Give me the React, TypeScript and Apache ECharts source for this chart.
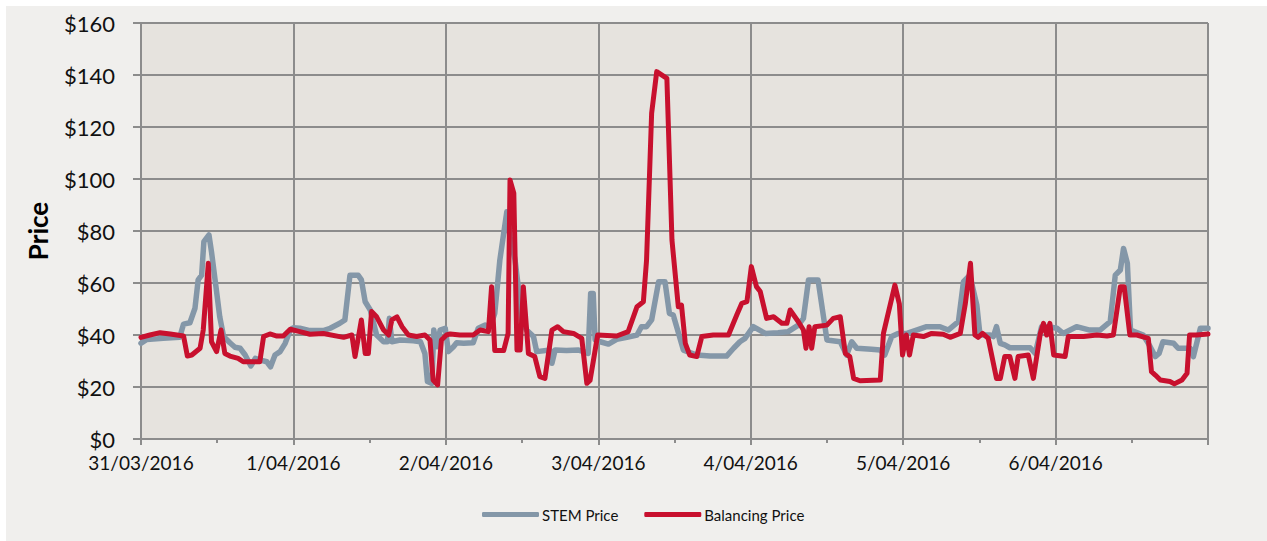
import React, { useEffect, useRef } from "react";
import * as echarts from "echarts";

// Tick labels for the time axis (hours from 31/03/2016 00:00, one label per day)
const dateLabels = [
  "31/03/2016",
  "1/04/2016",
  "2/04/2016",
  "3/04/2016",
  "4/04/2016",
  "5/04/2016",
  "6/04/2016",
];

const priceTicks = [0, 20, 40, 60, 80, 100, 120, 140, 160];

const seriesNames = ["STEM Price", "Balancing Price"];

// [hour since start, $ price]
const stemPrice: [number, number][] = [
  [0, 36.8], [0.9, 38.3], [3.5, 38.7], [6.1, 39.1], [6.7, 44.2], [7.7, 44.7], [8.5, 50.3], [9.0, 61.2],
  [9.55, 63], [9.9, 75.9], [10.7, 78.5], [11.1, 72], [11.8, 58.6], [12.4, 47], [13.0, 39.4], [14.0, 37],
  [14.8, 35.3], [15.6, 34.9], [16.4, 32.3], [17.3, 28.1], [18.0, 31], [18.7, 30.4], [19.8, 29.7], [20.4, 27.8],
  [21.1, 32.3], [21.9, 33.6], [22.7, 36.8], [23.5, 41.9], [24, 42.8],
  [25.0, 42.6], [26.6, 41.7], [28.7, 41.7], [29.8, 42.6], [31.3, 44.5], [32.1, 45.8], [32.9, 63], [34.2, 63],
  [34.7, 61.2], [35.3, 52.8], [36.1, 49.6], [37.1, 40], [38.2, 37.4], [38.8, 37.4], [39.1, 46.4], [39.5, 37.4],
  [40.8, 38.1], [42.9, 37.8], [44.0, 37.4], [44.7, 32.9], [45.1, 22.1], [45.8, 21.4], [46.1, 41.9], [46.6, 35.5],
  [47.1, 41.9], [47.9, 42.6], [48.4, 33.6],
  [49.2, 35.5], [49.7, 37], [50.8, 36.8], [52.3, 37], [53.1, 42.6], [54.2, 43.8], [55.0, 43.2], [55.7, 48.3],
  [56.5, 68.8], [57.6, 87.4], [58.1, 77.8], [58.9, 68.8], [59.4, 58.6], [59.9, 45.8], [60.7, 41.9], [61.8, 39.4],
  [62.3, 33.6], [64.4, 34.2], [64.7, 29.1], [65.2, 34.2], [67.0, 34], [68.9, 34.2], [69.7, 33.6], [70.4, 32.9],
  [70.8, 56], [71.2, 56], [71.5, 38.1],
  [72.3, 37.4], [73.6, 36.5], [74.9, 38.3], [76.5, 39.1], [78.1, 40], [78.8, 43.2], [79.6, 43.2], [80.4, 45.8],
  [81.5, 60.5], [82.5, 60.5], [83.2, 48.3], [83.8, 47.7], [85.4, 34.2], [87.5, 32.3], [89.6, 31.9], [92.2, 31.9],
  [93.3, 34.9], [94.3, 37.4], [95.1, 38.7],
  [96.4, 43.2], [98.3, 40.6], [100.3, 40.9], [101.9, 41.3], [103.5, 43.8], [104.3, 46.4], [105.1, 61.2], [106.6, 61.2],
  [108.0, 38.1], [110.1, 37.4], [111.1, 32.3], [111.9, 37.4], [112.7, 34.9], [115.0, 34.5], [116.4, 34.2], [117.1, 32.3],
  [118.2, 39.4], [119.2, 40.6],
  [120.6, 40.6], [122.1, 41.9], [123.7, 43.2], [125.8, 43.2], [127.1, 41.9], [128.7, 45.1], [129.5, 60.5], [130.5, 63],
  [131.6, 51.5], [132.1, 40], [133.7, 40], [134.2, 39.4], [134.7, 43.2], [135.3, 36.8], [136.0, 36.2], [136.8, 35.1],
  [140.0, 35.1], [140.8, 32.9], [141.8, 43.2], [142.9, 43.2],
  [144.2, 42.6], [145.2, 40.6], [147.3, 43.2], [149.4, 41.9], [151.0, 41.9], [152.6, 45.1], [153.4, 63], [154.2, 65],
  [154.7, 73.3], [155.3, 67.6], [155.8, 41.9], [157.8, 40], [158.9, 35.5], [159.7, 31.7], [160.3, 32.9], [160.9, 37.4],
  [162.6, 36.8], [163.3, 34.9], [165.2, 34.9], [165.7, 31.7], [166.8, 42.6], [168, 42.6],
];

const balancingPrice: [number, number][] = [
  [0, 39.1], [1.4, 40], [3, 40.9], [4.6, 40.4], [6.7, 39.6], [7.3, 31.9], [8.0, 32.3], [9.3, 34.9],
  [9.8, 41.9], [10.6, 67.6], [11.1, 37.4], [11.9, 33.6], [12.6, 41.9], [13.2, 32.9], [14.0, 31.9], [15.3, 31],
  [16.1, 29.7], [18.7, 29.7], [19.3, 39.4], [20.3, 40.4], [21.4, 39.6], [22.4, 39.6], [23.5, 42.2],
  [25.0, 41.3], [26.6, 40.3], [28.7, 40.6], [31.9, 39.1], [33.2, 40], [33.7, 31.7], [34.7, 45.8], [35.3, 32.9],
  [35.8, 32.9], [36.3, 49], [37.1, 47], [38.2, 41.9], [39.0, 40], [39.5, 45.8], [40.3, 47], [41.1, 43.2],
  [42.1, 40], [43.4, 39.4], [44.7, 40], [45.5, 38.1], [46.0, 22.7], [46.7, 20.8], [47.3, 38.1], [48.1, 40],
  [48.7, 40.4], [50.2, 40], [52.3, 40], [53.4, 41.9], [54.7, 41.3], [55.2, 58.6], [55.7, 34], [57.1, 34],
  [57.8, 40.6], [58.1, 99.6], [58.7, 94.5], [59.2, 34.2], [59.7, 34.2], [60.2, 58.6], [61.0, 32.9], [62.0, 31.7],
  [62.8, 24], [63.6, 23.3], [64.7, 41.9], [65.6, 43.2], [66.5, 41.3], [68.1, 40.6], [69.4, 38.7], [70.2, 21.4],
  [70.7, 22.5], [71.2, 29.7], [71.9, 40],
  [74.9, 39.6], [76.7, 41.3], [78.1, 50.9], [79.1, 52.8], [79.6, 68.8], [80.4, 125.3], [81.2, 141.3], [82.8, 138.7],
  [83.6, 76.5], [84.6, 50.9], [85.1, 51.5], [85.7, 36.8], [86.4, 32.3], [87.5, 31.7], [88.3, 39.4], [90.1, 40],
  [92.5, 40], [93.8, 47.7], [94.6, 52.2], [95.4, 52.8],
  [96.1, 66.3], [96.9, 58.6], [97.5, 56.7], [98.5, 46.4], [99.6, 47], [100.9, 44.5], [101.7, 44.5], [102.2, 49.6],
  [103.5, 45.1], [104.3, 41.9], [104.7, 34.9], [105.2, 43.2], [105.6, 34.9], [106.1, 43.2], [108.0, 43.8], [109.0, 46.4],
  [110.1, 47], [110.9, 32.9], [111.6, 31.7], [112.2, 23.3], [113.2, 22.4], [116.4, 22.7], [116.9, 40.6], [117.4, 45.8],
  [118.7, 59.2], [119.4, 52],
  [119.9, 32.3], [120.5, 40], [121.0, 32.3], [121.6, 40], [123.2, 39.4], [124.5, 40.6], [126.3, 40.3], [127.4, 39.1],
  [129.0, 40.6], [129.8, 52.2], [130.6, 67.6], [131.3, 40], [131.8, 39.1], [132.5, 40.6], [133.4, 38.7], [134.7, 23.3],
  [135.3, 23.3], [136.0, 31.7], [136.8, 31.7], [137.6, 23.3], [138.1, 31.7], [139.7, 32.3], [140.5, 23.3], [141.6, 40.6],
  [142.1, 44.5], [142.6, 40], [143.1, 44.5], [143.7, 32.3],
  [145.5, 31.7], [146.0, 39.4], [148.4, 39.4], [150.5, 40], [152.1, 39.6], [153.1, 40], [154.2, 58.6], [154.8, 58.6],
  [155.7, 40], [156.8, 40], [158.6, 38.7], [159.1, 25.9], [159.7, 24.6], [160.5, 22.7], [162.0, 22.1], [162.7, 21.2],
  [163.9, 22.7], [164.7, 25.3], [165.1, 40], [166.2, 40], [168, 40.4],
];

const GRID_COLOR = "#8c8c8c";
const STEM_COLOR = "#8497a8";
const BAL_COLOR = "#c8102e";
const FONT = "Lato, 'Noto Sans', sans-serif";

export default function App() {
  const ref = useRef<HTMLDivElement>(null);

  useEffect(() => {
    if (!ref.current) return;
    const chart = echarts.init(ref.current, undefined, { renderer: "svg" });
    chart.setOption({
      animation: false,
      backgroundColor: "#ffffff",
      graphic: [
        {
          type: "rect",
          z: -10,
          silent: true,
          shape: { x: 6, y: 6, width: 1261, height: 535 },
          style: { fill: "#f0efed" },
        },
        {
          type: "text",
          x: 38,
          y: 231,
          rotation: Math.PI / 2,
          style: {
            text: "Price",
            fontFamily: FONT,
            fontWeight: "bold",
            fontSize: 26,
            fill: "#000",
            align: "center",
            verticalAlign: "middle",
          },
        },
      ],
      grid: {
        left: 141,
        right: 59,
        top: 23,
        bottom: 102,
        show: true,
        backgroundColor: "#e6e3de",
        borderWidth: 0,
      },
      legend: {
        data: seriesNames,
        left: 477,
        top: 502,
        icon: "roundRect",
        itemWidth: 57,
        itemHeight: 5,
        itemGap: 26,
        textStyle: { fontFamily: FONT, fontSize: 15, color: "#111", padding: [0, 0, 0, -2] },
      },
      xAxis: {
        type: "value",
        min: 0,
        max: 168,
        interval: 24,
        axisLine: { show: true, lineStyle: { color: GRID_COLOR, width: 2 } },
        axisTick: { show: true, length: 6, lineStyle: { color: GRID_COLOR, width: 2 } },
        minorTick: { show: true, splitNumber: 2, length: 4, lineStyle: { color: GRID_COLOR, width: 2 } },
        splitLine: { show: true, lineStyle: { color: GRID_COLOR, width: 2 } },
        axisLabel: {
          margin: 14,
          fontFamily: FONT,
          fontSize: 19,
          color: "#111",
          formatter: (v: number) => dateLabels[Math.round(v / 24)] ?? "",
        },
      },
      yAxis: {
        type: "value",
        min: priceTicks[0],
        max: priceTicks[priceTicks.length - 1],
        interval: 20,
        axisLine: { show: true, lineStyle: { color: GRID_COLOR, width: 2 } },
        axisTick: { show: true, length: 8, lineStyle: { color: GRID_COLOR, width: 2 } },
        splitLine: { show: true, lineStyle: { color: GRID_COLOR, width: 2 } },
        axisLabel: {
          margin: 26,
          fontFamily: FONT,
          fontSize: 22,
          color: "#111",
          formatter: (v: number) => "$" + v,
        },
      },
      series: [
        {
          name: seriesNames[0],
          type: "line",
          data: stemPrice,
          symbol: "none",
          color: STEM_COLOR,
          lineStyle: { color: STEM_COLOR, width: 5.5, cap: "round", join: "round" },
          z: 2,
        },
        {
          name: seriesNames[1],
          type: "line",
          data: balancingPrice,
          symbol: "none",
          color: BAL_COLOR,
          lineStyle: { color: BAL_COLOR, width: 5, cap: "round", join: "round" },
          z: 3,
        },
      ],
    });
    return () => chart.dispose();
  }, []);

  return (
    <div
      ref={ref}
      style={{ position: "fixed", left: 0, top: 0, width: 1267, height: 541 }}
    />
  );
}
